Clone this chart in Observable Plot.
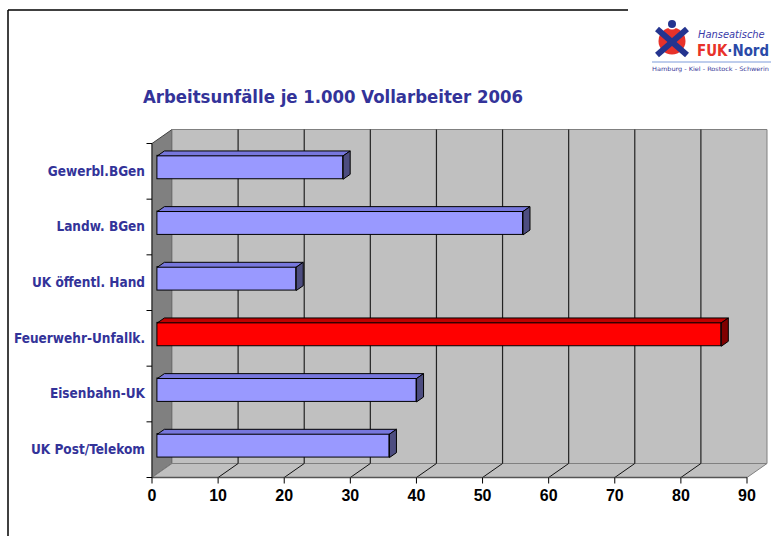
<!DOCTYPE html>
<html><head><meta charset="utf-8">
<script src="https://cdn.jsdelivr.net/npm/d3@7"></script>
<script src="https://cdn.jsdelivr.net/npm/@observablehq/plot@0.6"></script>
<style>body{margin:0;background:#fff}#chart{width:771px;height:536px}</style>
</head><body><div id="chart"></div>
<script>
// ---- data ----
const categories = ["Gewerbl.BGen", "Landw. BGen", "UK öffentl. Hand", "Feuerwehr-Unfallk.", "Eisenbahn-UK", "UK Post/Telekom"];
const values = [28.1, 55.3, 21.0, 85.3, 39.2, 35.1];
const highlighted = ["Feuerwehr-Unfallk."];
const xTicks = [0, 10, 20, 30, 40, 50, 60, 70, 80, 90];
const title = "Arbeitsunfälle je 1.000 Vollarbeiter 2006";

// ---- geometry ----
const W = 771, H = 536, mL = 151.5, mR = 24.5, mT = 143, mB = 59;
const xMax = 90, nCat = categories.length;
const pxX = (W - mL - mR) / xMax, pxY = (H - mT - mB) / nCat;
const DX = 20 / pxX, DY = -14 / pxY;           // depth offsets in data units
const P = (v, yy, d) => ({x: v + d * DX, y: yy + d * DY});
const poly = (id, pts, fill, stroke) => [...pts, pts[0]].map(p => ({...p, id, fill, stroke}));

const rows = categories.map((c, i) => ({c, i, v: values[i], hi: highlighted.includes(c)}));
const d0 = 0.27, d1 = 0.62, b0 = 0.29, b1 = 0.71;

const walls = [
  ...poly("left", [P(0,0,0), P(0,0,1), P(0,nCat,1), P(0,nCat,0)], "#808080", "#404040"),
  ...poly("back", [P(0,0,1), P(xMax,0,1), P(xMax,nCat,1), P(0,nCat,1)], "#c0c0c0", "#808080"),
  ...poly("floor", [P(0,nCat,0), P(xMax,nCat,0), P(xMax,nCat,1), P(0,nCat,1)], "#c0c0c0", "#808080")
];
const faces = rows.flatMap(r => {
  const top = r.hi ? "#c00000" : "#7777dd", side = r.hi ? "#800000" : "#4d4d80";
  return [
    ...poly("t" + r.i, [P(0, r.i + b0, d0), P(r.v, r.i + b0, d0), P(r.v, r.i + b0, d1), P(0, r.i + b0, d1)], top, "#000"),
    ...poly("s" + r.i, [P(r.v, r.i + b0, d0), P(r.v, r.i + b0, d1), P(r.v, r.i + b1, d1), P(r.v, r.i + b1, d0)], side, "#000")
  ];
});
const inner = xTicks.filter(t => t > 0 && t < xMax);
const catEdges = d3.range(nCat + 1);

const chart = Plot.plot({
  width: W, height: H, marginLeft: mL, marginRight: mR, marginTop: mT, marginBottom: mB,
  x: {domain: [0, xMax], axis: null},
  y: {domain: [0, nCat], reverse: true, axis: null},
  color: {type: "identity"},
  style: {background: "white", overflow: "visible"},
  marks: [
    Plot.line(walls, {x: "x", y: "y", z: "id", fill: "fill", stroke: "stroke", strokeWidth: 1, curve: "linear"}),
    Plot.link(inner, {x1: t => t + DX, x2: t => t + DX, y1: () => DY, y2: () => nCat + DY, stroke: "#222", strokeWidth: 1.2}),
    Plot.link(inner, {x1: t => t, y1: () => nCat, x2: t => t + DX, y2: () => nCat + DY, stroke: "#111", strokeWidth: 1}),
    Plot.link([0], {x1: () => 0, x2: () => xMax, y1: () => nCat, y2: () => nCat, stroke: "#555", strokeWidth: 1.6}),
    Plot.link([0], {x1: () => 0, x2: () => 0, y1: () => 0, y2: () => nCat, stroke: "#333", strokeWidth: 1}),
    Plot.link(catEdges, {x1: () => -5.5 / pxX, x2: () => 0, y1: d => d, y2: d => d, stroke: "#000", strokeWidth: 1}),
    Plot.link(xTicks, {x1: t => t, x2: t => t, y1: () => nCat, y2: () => nCat + 6 / pxY, stroke: "#000", strokeWidth: 1}),
    Plot.rect(rows, {x1: () => d0 * DX, x2: r => r.v + d0 * DX, y1: r => r.i + b0 + d0 * DY, y2: r => r.i + b1 + d0 * DY,
      fill: r => r.hi ? "#ff0000" : "#9999ff", stroke: "#000", strokeWidth: 1}),
    Plot.line(faces, {x: "x", y: "y", z: "id", fill: "fill", stroke: "stroke", strokeWidth: 1, curve: "linear"}),
    Plot.text(xTicks, {x: t => t, y: () => nCat, dy: 18, text: t => String(t), fill: "#000", fontSize: 16, fontWeight: "bold",
      fontFamily: "'Liberation Sans Narrow', 'Arial Narrow', 'Liberation Sans', sans-serif"}),
    Plot.text(rows, {x: () => 0, y: r => r.i + 0.5, dx: -7, text: "c", textAnchor: "end", fill: "#333399", fontSize: 13.5, fontWeight: "bold",
      fontFamily: "'DejaVu Sans Condensed', 'DejaVu Sans', sans-serif"})
  ]
});
document.getElementById("chart").appendChild(chart);

// ---- decorations: frame, title, logo ----
const svg = d3.select(chart);
const FONT = "'DejaVu Sans Condensed', 'DejaVu Sans', sans-serif";
svg.append("line").attr("x1", 8).attr("x2", 628).attr("y1", 10).attr("y2", 10).attr("stroke", "#000").attr("stroke-width", 1.5);
svg.append("line").attr("x1", 8).attr("x2", 8).attr("y1", 10).attr("y2", H).attr("stroke", "#000").attr("stroke-width", 1.5);
svg.append("text").attr("x", 333).attr("y", 103).attr("text-anchor", "middle")
  .attr("font-family", FONT).attr("font-weight", "bold").attr("font-size", 18.4)
  .attr("fill", "#333399").text(title);

const logo = svg.append("g").attr("text-anchor", "start");
logo.append("circle").attr("cx", 672).attr("cy", 41).attr("r", 13.5).attr("fill", "#e8322a");
logo.append("line").attr("x1", 657).attr("y1", 29).attr("x2", 687).attr("y2", 55).attr("stroke", "#24348f").attr("stroke-width", 6);
logo.append("line").attr("x1", 687).attr("y1", 29).attr("x2", 657).attr("y2", 55).attr("stroke", "#24348f").attr("stroke-width", 6);
logo.append("circle").attr("cx", 672).attr("cy", 24).attr("r", 5.5).attr("fill", "#fff");
logo.append("circle").attr("cx", 672).attr("cy", 24).attr("r", 4).attr("fill", "#24348f");
logo.append("text").attr("x", 698).attr("y", 38).attr("text-anchor", "start").attr("font-family", FONT)
  .attr("font-style", "italic").attr("font-size", 11).attr("fill", "#3a3aa8").text("Hanseatische");
const fk = logo.append("text").attr("x", 697).attr("y", 56).attr("text-anchor", "start").attr("font-family", FONT)
  .attr("font-weight", "bold").attr("font-size", 15.5).attr("textLength", 72).attr("lengthAdjust", "spacingAndGlyphs");
fk.append("tspan").attr("fill", "#e8322a").text("FUK");
fk.append("tspan").attr("fill", "#2a4aa8").text("·Nord");
logo.append("line").attr("x1", 652).attr("x2", 771).attr("y1", 62).attr("y2", 62).attr("stroke", "#a8bce6").attr("stroke-width", 1.5);
logo.append("text").attr("x", 652).attr("y", 71).attr("text-anchor", "start").attr("font-family", FONT)
  .attr("font-size", 6).attr("textLength", 117).attr("lengthAdjust", "spacingAndGlyphs").attr("fill", "#3a3a9a")
  .text("Hamburg - Kiel - Rostock - Schwerin");
</script></body></html>
